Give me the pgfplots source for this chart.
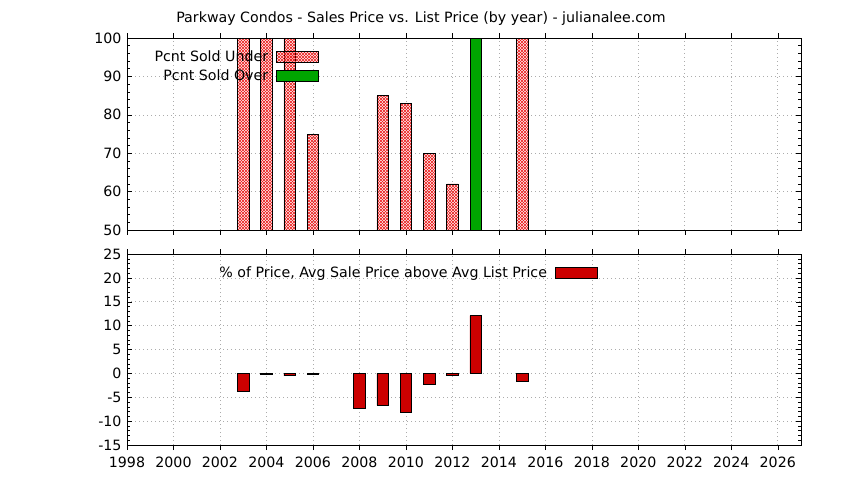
\documentclass[border=0pt]{standalone}
\usepackage{pgfplots}
\pgfplotsset{compat=1.18}
\usetikzlibrary{patterns}
\usepackage{fontspec}
\setmainfont{DejaVu Sans}

\definecolor{barred}{RGB}{204,0,0}
\definecolor{bargreen}{RGB}{0,165,0}
\definecolor{hatchred}{RGB}{235,30,30}

% diagonal crosshatch like gnuplot's fill pattern 1
\pgfdeclarepatternformonly{dcross}{\pgfqpoint{-0.5pt}{-0.5pt}}{\pgfqpoint{3.5pt}{3.5pt}}{\pgfqpoint{3pt}{3pt}}{
  \pgfsetlinewidth{0.6pt}
  \pgfpathmoveto{\pgfqpoint{-0.2pt}{-0.2pt}}\pgfpathlineto{\pgfqpoint{3.2pt}{3.2pt}}
  \pgfpathmoveto{\pgfqpoint{-0.2pt}{3.2pt}}\pgfpathlineto{\pgfqpoint{3.2pt}{-0.2pt}}
  \pgfusepath{stroke}}

\pgfplotsset{
  gp/.style={
    scale only axis,
    width=674pt,
    xmin=1998, xmax=2027,
    xtick={1998,2000,...,2026},
    minor x tick num=1,
    minor y tick num=4,
    tick align=inside,
    major tick length=5pt,
    minor tick length=3pt,
    every x tick/.style={black, line width=0.5pt},
    every y tick/.style={black, line width=0.5pt},
    every minor x tick/.style={black, line width=0.5pt, major tick length=5pt},
    xmajorgrids, xminorgrids, ymajorgrids,
    major grid style={gray!65, line width=0.6pt, dash pattern=on 0.7pt off 3.3pt},
    minor grid style={gray!65, line width=0.6pt, dash pattern=on 0.7pt off 3.3pt},
    axis line style={line width=0.8pt},
    ybar, bar width=0.5, bar shift=0pt,
    font=\fontsize{14.2}{16}\selectfont,
    tick label style={font=\fontsize{14.2}{16}\selectfont},
    yticklabel style={xshift=-2pt},
    xticklabel style={yshift=-3pt},
    /pgf/number format/assume math mode=true,
    /pgf/number format/1000 sep={},
    legend style={draw=none, fill=none, font=\fontsize{14.2}{16}\selectfont,
      row sep=3pt, column sep=6pt},
    legend cell align=right,
    legend plot pos=right,
    legend image code/.code={\draw[#1, line width=0.6pt] (0pt,-5.5pt) rectangle (42pt,5.5pt);},
  }
}

\begin{document}
\begin{tikzpicture}[x=1pt,y=1pt]
\useasboundingbox (0,0) rectangle (844,480);

\node[font=\fontsize{14.2}{16}\selectfont] at (421,461) {Parkway Condos - Sales Price vs. List Price (by year) - julianalee.com};

% top: percent sold under / over list
\begin{axis}[gp,
  at={(127pt,250pt)}, anchor=south west,
  height=192pt,
  ymin=50, ymax=100,
  ytick={50,60,...,100},
  xticklabels={},
  legend style={at={(0.2893,0.955)}, anchor=north east},
]
\addplot[draw=black, line width=0.6pt, pattern=dcross, pattern color=hatchred]
  coordinates {(2003,100) (2004,100) (2005,100) (2006,75) (2009,85) (2010,83) (2011,70) (2012,62) (2015,100)};
\addlegendentry{Pcnt Sold Under}
\addplot[draw=black, line width=0.6pt, fill=bargreen]
  coordinates {(2013,100)};
\addlegendentry{Pcnt Sold Over}
\end{axis}

% bottom: avg sale price vs avg list price
\begin{axis}[gp,
  at={(127pt,35pt)}, anchor=south west,
  height=191pt,
  ymin=-15, ymax=25,
  ytick={-15,-10,...,25},
  legend style={at={(0.703,0.958)}, anchor=north east},
]
\addplot[draw=black, line width=0.6pt, fill=barred]
  coordinates {(2003,-3.8) (2004,-0.1) (2005,-0.5) (2006,-0.1) (2008,-7.4) (2009,-6.7) (2010,-8.2) (2011,-2.2) (2012,-0.3) (2013,12.1) (2015,-1.7)};
\addlegendentry{\% of Price, Avg Sale Price above Avg List Price}
\end{axis}
\end{tikzpicture}
\end{document}
